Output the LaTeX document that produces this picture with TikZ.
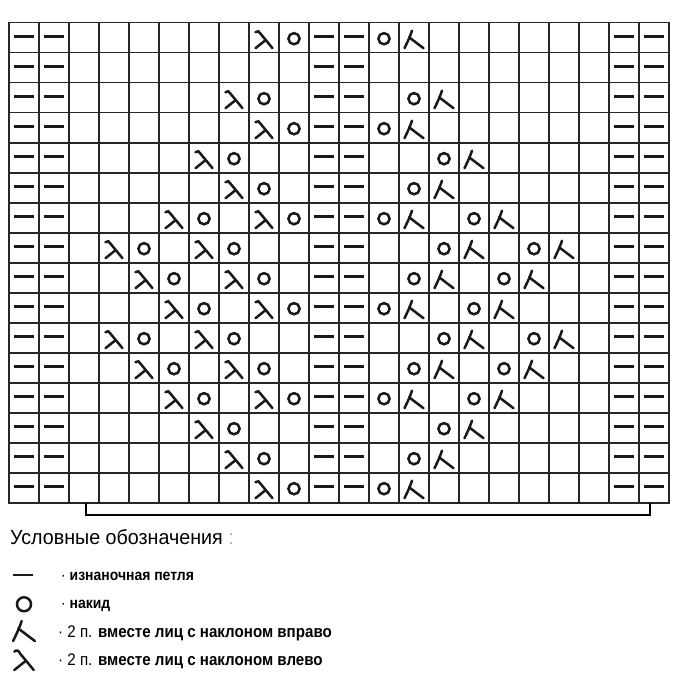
\documentclass[tikz,border=0pt]{standalone}
\usepackage{fontspec}
\setmainfont{Liberation Sans}
\newfontfamily\titlefont[FakeStretch=0.96]{Liberation Sans}
\newfontfamily\keyfont[FakeStretch=0.9]{Liberation Sans}

\tikzset{
  gridline/.style={line width=1.6pt, black!85},
  symline/.style={line width=2.5pt, line cap=round, black!90},
  keytext/.style={anchor=base west, inner sep=0pt, font=\keyfont\fontsize{15.5}{16}\selectfont\bfseries},
  % stitch symbols, a cell is 30 wide
  stp/.pic={\draw[symline, line cap=butt, line width=2.8pt] (-10,-1) -- (10,-1);},
  sto/.pic={\draw[symline] (0,1) circle (5.6);},
  stl/.pic={\draw[symline] (-8.5,-5.5) .. controls (-6.5,-7.5) and (-4.5,-6.5) .. (-3.5,-4) -- (8.5,10.5);
            \draw[symline] (1.5,2.5) -- (-8.5,10.5);},
  str/.pic={\draw[symline] (-2,-7) .. controls (-4.5,0) .. (-9.5,10.5);
            \draw[symline] (-5,-0.5) -- (9.5,10.5);},
}

\begin{document}
\begin{tikzpicture}[x=1pt, y=-1pt]
\fill[white] (0,0) rectangle (677,690);
\useasboundingbox (0,0) rectangle (677,690);

% grid, 22 x 16 cells
\foreach \c in {1,...,21}
  \draw[gridline] (9+30*\c,22.7) -- (9+30*\c,502.7);
\foreach \r in {1,...,15}
  \draw[gridline] (9,22.7+30*\r) -- (669,22.7+30*\r);
\draw[gridline] (9,22.7) rectangle (669,502.7);

% purl columns
\foreach \r in {1,...,16}
  \foreach \c in {1,2,11,12,21,22}
    \pic at (30*\c-6, 30*\r+7.7) {stp};

% lace pattern: column/symbol for each row
\foreach \r/\row in {
  1/{9/l,10/o,13/o,14/r},
  3/{8/l,9/o,14/o,15/r},
  4/{9/l,10/o,13/o,14/r},
  5/{7/l,8/o,15/o,16/r},
  6/{8/l,9/o,14/o,15/r},
  7/{6/l,7/o,9/l,10/o,13/o,14/r,16/o,17/r},
  8/{4/l,5/o,7/l,8/o,15/o,16/r,18/o,19/r},
  9/{5/l,6/o,8/l,9/o,14/o,15/r,17/o,18/r},
  10/{6/l,7/o,9/l,10/o,13/o,14/r,16/o,17/r},
  11/{4/l,5/o,7/l,8/o,15/o,16/r,18/o,19/r},
  12/{5/l,6/o,8/l,9/o,14/o,15/r,17/o,18/r},
  13/{6/l,7/o,9/l,10/o,13/o,14/r,16/o,17/r},
  14/{7/l,8/o,15/o,16/r},
  15/{8/l,9/o,14/o,15/r},
  16/{9/l,10/o,13/o,14/r}}
  \foreach \c/\t in \row
    \pic at (30*\c-6, 30*\r+7.7) {st\t};

% repeat bracket
\draw[line width=2.2pt] (86,502.7) -- (86,515) -- (650,515) -- (650,502.7);

% legend
\node[anchor=base west, inner sep=0pt, font=\titlefont\fontsize{20.5}{21}\selectfont] (keytitle) at (10,544)
  {Условные обозначения \textcolor{black!30}{:}};

\pic at (23,576) {stp};
\pic[scale=1.25] at (24,603) {sto};
\pic[scale=1.15] at (24,629) {str};
\pic[scale=1.15] at (24,658) {stl};

\node[keytext] (purltext) at (61,580) {\mdseries·\ \bfseries изнаночная петля};
\node[keytext] (yotext) at (61,608.5) {\mdseries·\ \bfseries накид};
\node[keytext, font=\keyfont\fontsize{16.8}{17}\selectfont\bfseries] (righttext) at (58,637)
  {{\mdseries· 2 п.} вместе лиц с наклоном вправо};
\node[keytext, font=\keyfont\fontsize{16.8}{17}\selectfont\bfseries] (lefttext) at (58,665.5)
  {{\mdseries· 2 п.} вместе лиц с наклоном влево};
\end{tikzpicture}
\end{document}
